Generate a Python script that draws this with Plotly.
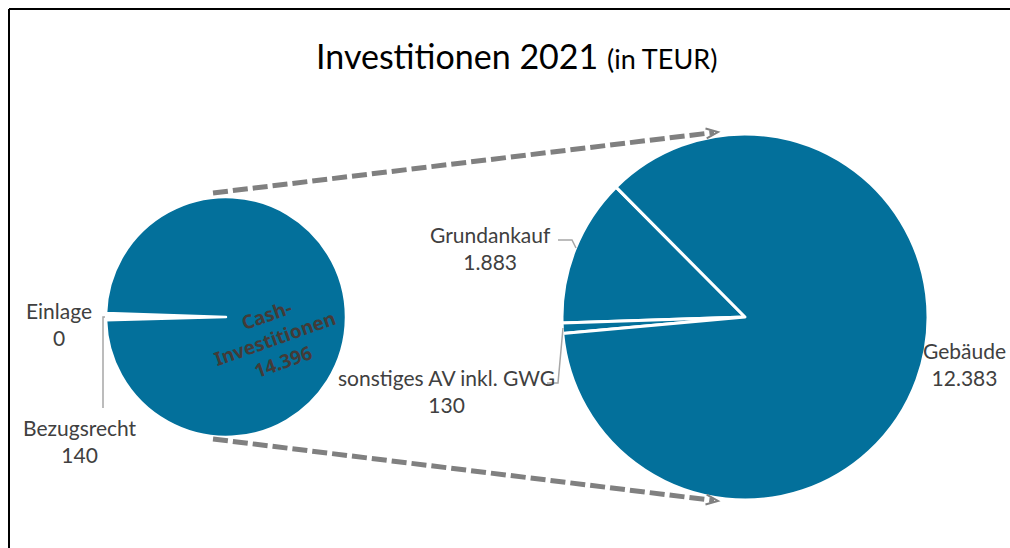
import math
import plotly.graph_objects as go

#### data ####
left_labels = ['Einlage', 'Bezugsrecht', 'Cash-<br>Investitionen']
left_values = [0, 140, 14396]
right_labels = ['Grundankauf', 'sonstiges AV inkl. GWG', 'Gebäude']
right_values = [1883, 130, 12383]
title_main = 'Investitionen 2021'
title_unit = '(in TEUR)'

#### layout helpers (page pixels -> paper) ####
W, H = 1010, 548
def X(px):
    return px / W
def Y(py):
    return 1 - py / H

def fmt(v):
    return f'{v:,}'.replace(',', '.')

BLUE = '#03709b'
GREY_TXT = '#404040'
FONT = 'Lato'

fig = go.Figure()
fig.add_trace(go.Pie(
    labels=left_labels, values=left_values, sort=False,
    direction='counterclockwise', rotation=-88.1,
    marker=dict(colors=['#ffffff', '#ffffff', BLUE], line=dict(color='white', width=2.5)),
    textinfo='none', showlegend=False,
    domain=dict(x=[X(106), X(346)], y=[Y(437), Y(197)]),
))
fig.add_trace(go.Pie(
    labels=right_labels, values=right_values, sort=False,
    direction='counterclockwise', rotation=-91.9,
    marker=dict(colors=[BLUE, BLUE, BLUE], line=dict(color='white', width=3)),
    textinfo='none', showlegend=False,
    domain=dict(x=[X(562), X(928)], y=[Y(500), Y(134)]),
))

#### labels ####
label_pos = {
    'Einlage': (59, 324),
    'Bezugsrecht': (80, 441),
    'Grundankauf': (490, 248),
    'sonstiges AV inkl. GWG': (446, 391),
    'Gebäude': (964, 364),
}
annotations = []
for lab, val in list(zip(left_labels[:2], left_values[:2])) + list(zip(right_labels, right_values)):
    x, y = label_pos[lab]
    annotations.append(dict(x=X(x), y=Y(y), xref='paper', yref='paper', showarrow=False,
                            xanchor='center', yanchor='middle',
                            text=f'{lab}<br>{fmt(val)}', align='center',
                            font=dict(family=FONT, size=21, color=GREY_TXT)))

# label inside the small pie
annotations.append(dict(x=X(274), y=Y(338), xref='paper', yref='paper', showarrow=False,
                        xanchor='center', yanchor='middle',
                        text=f'<b>{left_labels[2]}<br>{fmt(left_values[2])}</b>', textangle=-19.5,
                        align='center',
                        font=dict(family='Noto Sans', size=19, color='#433b38')))

# title
annotations.append(dict(x=X(516), y=Y(55), xref='paper', yref='paper', showarrow=False,
                        xanchor='center', yanchor='middle',
                        text=f'{title_main} <span style="font-size:27px">{title_unit}</span>',
                        font=dict(family=FONT, size=34, color='black')))

#### shapes: border (left + top), connectors, leader lines ####
shapes = [dict(type='line', xref='paper', yref='paper', x0=X(9), y0=Y(9), x1=X(9), y1=Y(560),
               line=dict(color='black', width=2)),
          dict(type='line', xref='paper', yref='paper', x0=X(9), y0=Y(9), x1=X(1020), y1=Y(9),
               line=dict(color='black', width=2))]

def connector(p0, p1):
    (x0, y0), (x1, y1) = p0, p1
    L = math.hypot(x1 - x0, y1 - y0)
    ux, uy = (x1 - x0) / L, (y1 - y0) / L
    nx, ny = -uy, ux
    out = [dict(type='line', xref='paper', yref='paper', x0=X(x0), y0=Y(y0),
                x1=X(x1 - 4 * ux), y1=Y(y1 - 4 * uy),
                line=dict(color='#808080', width=5, dash='15px,5px'))]
    bx, by = x1 - 12 * ux, y1 - 12 * uy
    path = (f'M {X(bx + 5 * nx)},{Y(by + 5 * ny)} L {X(x1)},{Y(y1)} '
            f'L {X(bx - 5 * nx)},{Y(by - 5 * ny)}')
    out.append(dict(type='path', xref='paper', yref='paper', path=path,
                    line=dict(color='#808080', width=2)))
    return out

shapes += connector((213, 193), (718, 132))
shapes += connector((213, 439), (718, 501))

lead = dict(color='#a6a6a6', width=1.5)
for pts in [[(105, 317), (103, 317), (103, 408)],
            [(558, 240), (572, 240), (576, 248)],
            [(563, 328), (558, 383), (547, 383)]]:
    path = 'M ' + ' L '.join(f'{X(a)},{Y(b)}' for a, b in pts)
    shapes.append(dict(type='path', xref='paper', yref='paper', path=path, line=lead))

fig.update_layout(
    width=W, height=H, autosize=False,
    margin=dict(l=0, r=0, t=0, b=0),
    paper_bgcolor='white', plot_bgcolor='white',
    annotations=annotations, shapes=shapes,
    font=dict(family=FONT),
)
# drop the default 8px body margin so the figure fills the window
fig.write_html('out.html', config={'displayModeBar': False},
               post_script="document.body.style.margin='0';")
